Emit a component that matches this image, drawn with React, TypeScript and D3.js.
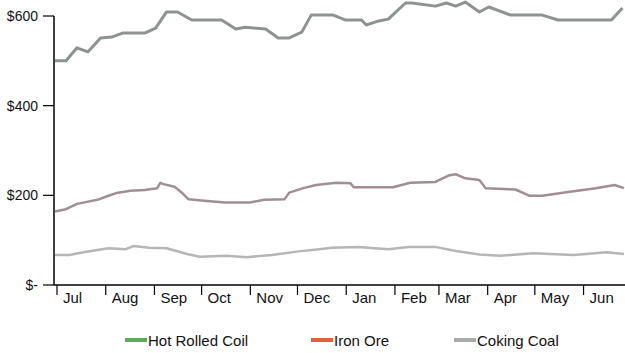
import React from "react";
import * as d3 from "d3";

// Weekly-ish price observations, USD per tonne
const hotRolledCoil: [string, number][] = [
  ["2016-07-01", 500], ["2016-07-08", 500], ["2016-07-15", 529], ["2016-07-22", 520],
  ["2016-07-30", 551], ["2016-08-06", 553], ["2016-08-13", 562], ["2016-08-27", 562],
  ["2016-09-03", 573], ["2016-09-10", 609], ["2016-09-17", 609], ["2016-09-26", 591],
  ["2016-10-15", 591], ["2016-10-24", 571], ["2016-10-30", 575], ["2016-11-12", 571],
  ["2016-11-20", 551], ["2016-11-27", 551], ["2016-12-05", 564], ["2016-12-11", 602],
  ["2016-12-25", 602], ["2017-01-02", 591], ["2017-01-12", 591], ["2017-01-15", 580],
  ["2017-01-23", 589], ["2017-01-29", 593], ["2017-02-09", 629], ["2017-02-13", 629],
  ["2017-02-28", 622], ["2017-03-07", 629], ["2017-03-13", 622], ["2017-03-19", 631],
  ["2017-03-28", 609], ["2017-04-03", 620], ["2017-04-17", 602], ["2017-05-07", 602],
  ["2017-05-17", 591], ["2017-06-20", 591], ["2017-06-27", 618],
];

const ironOre: [string, number][] = [
  ["2016-07-01", 164], ["2016-07-08", 169], ["2016-07-15", 181], ["2016-07-22", 186],
  ["2016-07-28", 190], ["2016-08-04", 199], ["2016-08-10", 206], ["2016-08-18", 210],
  ["2016-08-27", 212], ["2016-09-04", 216], ["2016-09-06", 228], ["2016-09-08", 225],
  ["2016-09-15", 219], ["2016-09-20", 205], ["2016-09-24", 191], ["2016-10-04", 188],
  ["2016-10-17", 184], ["2016-11-02", 184], ["2016-11-11", 190], ["2016-11-24", 191],
  ["2016-11-27", 206], ["2016-12-06", 216], ["2016-12-14", 223], ["2016-12-27", 228],
  ["2017-01-05", 227], ["2017-01-07", 218], ["2017-02-01", 218], ["2017-02-12", 228],
  ["2017-02-28", 230], ["2017-03-09", 245], ["2017-03-13", 247], ["2017-03-19", 238],
  ["2017-03-28", 234], ["2017-04-01", 216], ["2017-04-20", 213], ["2017-04-29", 199],
  ["2017-05-07", 199], ["2017-05-20", 206], ["2017-06-10", 216], ["2017-06-22", 223],
  ["2017-06-28", 216],
];

const cokingCoal: [string, number][] = [
  ["2016-07-01", 67], ["2016-07-10", 67], ["2016-07-21", 74], ["2016-08-04", 82],
  ["2016-08-15", 80], ["2016-08-20", 87], ["2016-08-30", 83], ["2016-09-10", 82],
  ["2016-09-23", 69], ["2016-10-01", 63], ["2016-10-18", 65], ["2016-10-31", 62],
  ["2016-11-16", 67], ["2016-12-03", 75], ["2016-12-16", 80], ["2016-12-24", 83],
  ["2017-01-10", 85], ["2017-01-29", 80], ["2017-02-11", 85], ["2017-02-28", 85],
  ["2017-03-13", 76], ["2017-03-28", 68], ["2017-04-10", 65], ["2017-05-01", 71],
  ["2017-05-27", 67], ["2017-06-17", 73], ["2017-06-28", 69],
];

const yTicks = [0, 200, 400, 600];

const legendItems = [
  { label: "Hot Rolled Coil", color: "#5cab5c" },
  { label: "Iron Ore", color: "#e0623f" },
  { label: "Coking Coal", color: "#aaaaaa" },
];

const seriesStyles = [
  { data: hotRolledCoil, stroke: "#8d938f", width: 3 },
  { data: ironOre, stroke: "#a08e92", width: 2.5 },
  { data: cokingCoal, stroke: "#b6b6b6", width: 2.5 },
];

const W = 625;
const H = 353;
const parse = d3.timeParse("%Y-%m-%d");
const fmtY = (v: number) => (v === 0 ? "$-" : `$${v}`);

export default function App() {
  const x = d3
    .scaleTime()
    .domain([parse("2016-07-01")!, parse("2017-06-28")!])
    .range([55, 624]);
  const y = d3.scaleLinear().domain([0, 600]).range([285, 16]);

  const line = d3
    .line<[string, number]>()
    .x((d) => x(parse(d[0])!))
    .y((d) => y(d[1]));

  const monthTicks = d3.timeMonth.range(parse("2016-07-01")!, parse("2017-06-28")!);
  const fmtM = d3.timeFormat("%b");
  const font = "'Liberation Sans', Arial, sans-serif";

  return (
    <svg
      width={W}
      height={H}
      style={{ position: "absolute", left: 0, top: 0, background: "#fff" }}
      fontFamily={font}
    >
      {/* price lines */}
      {seriesStyles.map((s, i) => (
        <path
          key={i}
          d={line(s.data) ?? ""}
          fill="none"
          stroke={s.stroke}
          strokeWidth={s.width}
          strokeLinejoin="round"
        />
      ))}

      {/* y axis */}
      <line x1={54} x2={54} y1={y(600)} y2={y(0)} stroke="#000" strokeWidth={1.5} />
      {yTicks.map((t) => (
        <g key={t}>
          <line x1={43} x2={54} y1={y(t)} y2={y(t)} stroke="#000" strokeWidth={1.2} />
          <text x={38} y={y(t)} dy="0.35em" textAnchor="end" fontSize={14} fill="#111">
            {fmtY(t)}
          </text>
        </g>
      ))}

      {/* x axis */}
      <line x1={54} x2={W} y1={y(0)} y2={y(0)} stroke="#000" strokeWidth={1.5} />
      {monthTicks.map((m) => (
        <g key={m.toISOString()}>
          <line
            x1={x(m) + 2}
            x2={x(m) + 2}
            y1={y(0)}
            y2={y(0) + 10}
            stroke="#000"
            strokeWidth={1.2}
          />
          <text x={x(m) + 8} y={303} fontSize={15} fill="#111">
            {fmtM(m)}
          </text>
        </g>
      ))}

      {/* legend */}
      {legendItems.map((it, i) => {
        const lx = [125, 311, 454][i];
        return (
          <g key={it.label}>
            <rect x={lx} y={338} width={22} height={4} fill={it.color} />
            <text x={lx + 23} y={341} dy="0.35em" fontSize={15} fill="#111">
              {it.label}
            </text>
          </g>
        );
      })}
    </svg>
  );
}
